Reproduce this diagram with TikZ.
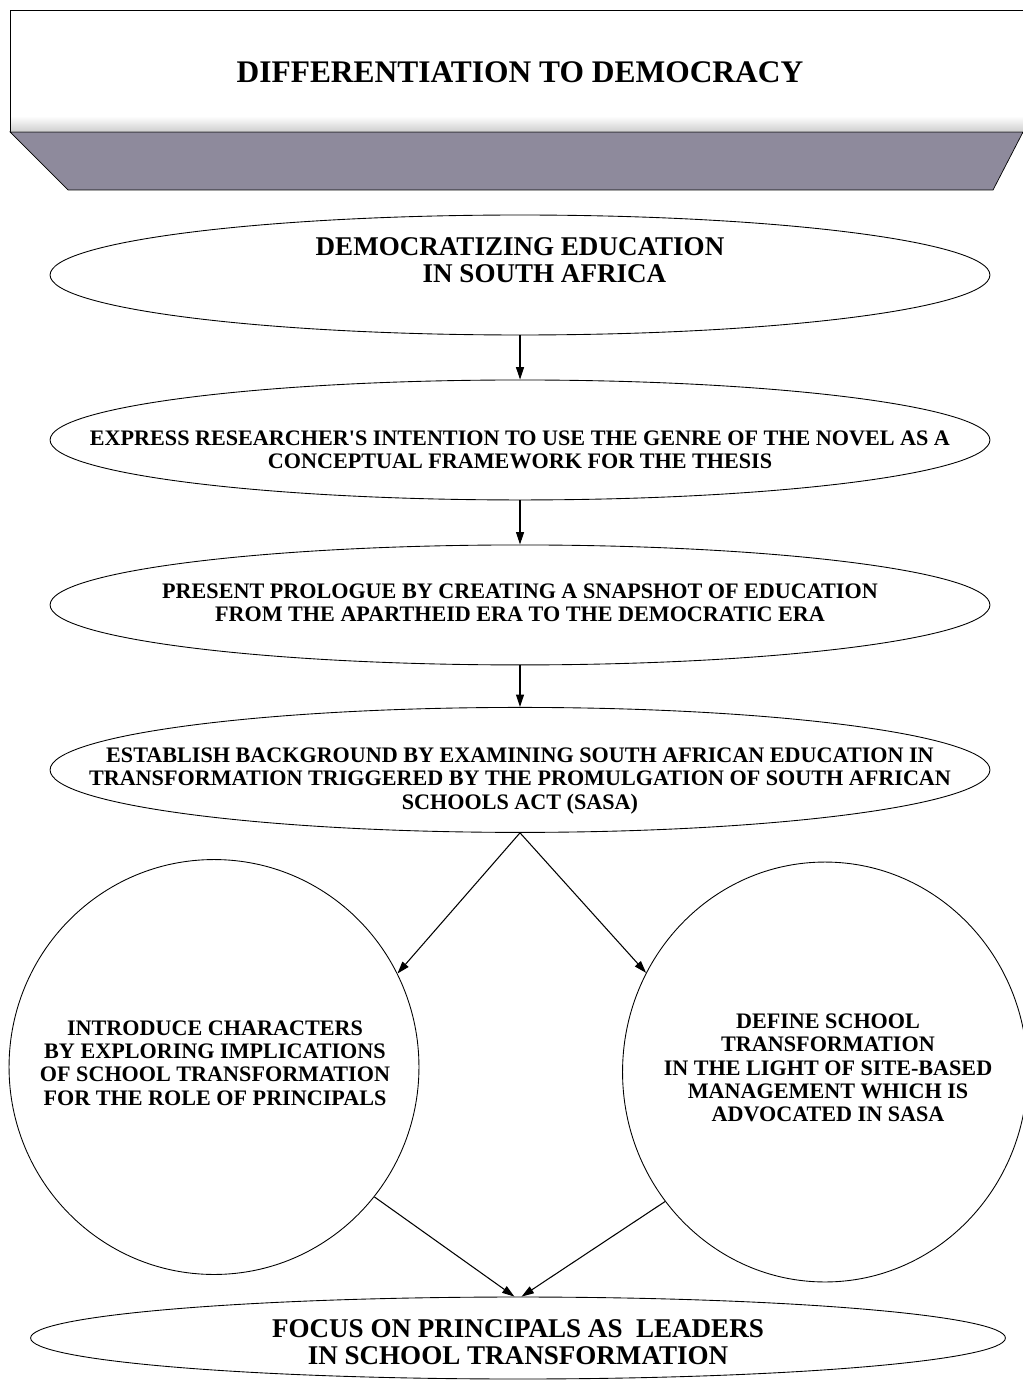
\documentclass[tikz,border=0pt]{standalone}
\usepackage{fontspec}
\setmainfont{Liberation Serif}
\usetikzlibrary{arrows.meta,shapes}

\definecolor{slab}{RGB}{142,138,156}
\newcommand{\straightquote}{{\XeTeXglyph\XeTeXglyphindex "quotesingle"\relax}}

\begin{document}
\begin{tikzpicture}[x=0.02cm,y=-0.02cm,node distance=3.3cm]
	  \tikzstyle{stage}=[ellipse,draw,line width=0.5pt,minimum width=18.8cm,minimum height=2.4cm,inner sep=0pt]
	  \tikzstyle{bubble}=[ellipse,draw,line width=0.5pt,minimum width=8.2cm,minimum height=8.3cm,inner sep=0pt]
	  \tikzstyle{words}=[align=center,inner sep=0pt,font=\bfseries\fontsize{12.6}{13.3}\selectfont]
	  \tikzstyle{bigwords}=[words,font=\bfseries\fontsize{15.4}{15.3}\selectfont]
	  \tikzstyle{flow}=[-{Triangle[length=7pt,width=4.5pt]},semithick]

		\useasboundingbox (0,0) rectangle (1023,1381);

		% banner
		\draw[thin,fill=white] (10,10) rectangle (1030,132);
		\shade[top color=white,bottom color=black!18] (11,116) rectangle (1030,131);
		\draw[thin,fill=slab] (10,132) -- (1023,132) -- (993,190) -- (68,190) -- cycle;
		\node[font=\bfseries\fontsize{17.9}{20}\selectfont] (title) at (520,72) {DIFFERENTIATION TO DEMOCRACY};

		\node[stage] (e1) at (520,275) {};
		\node[stage] (e2) [below of=e1] {};
		\node[stage] (e3) [below of=e2] {};
		\node[stage,minimum height=2.5cm] (e4) [below of=e3] {};

		\node[bubble] (c1) at (214,1067) {};
		\node[bubble,minimum width=8.1cm,minimum height=8.4cm] (c2) at (825,1072) {};

		\node[stage,minimum width=19.5cm,minimum height=1.64cm] (e6) at (518,1338) {};

		\node[bigwords,align=left] (t1) at (520,260) {DEMOCRATIZING EDUCATION\\\hspace*{2.14cm}IN SOUTH AFRICA};
		\node[words] (t2) at (520,450) {EXPRESS RESEARCHER\straightquote S INTENTION TO USE THE GENRE OF THE NOVEL AS A\\CONCEPTUAL FRAMEWORK FOR THE THESIS};
		\node[words] (t3) at (520,603) {PRESENT PROLOGUE BY CREATING A SNAPSHOT OF EDUCATION\\FROM THE APARTHEID ERA TO THE DEMOCRATIC ERA};
		\node[words] (t4) at (520,781) {ESTABLISH BACKGROUND BY EXAMINING SOUTH AFRICAN EDUCATION IN\\TRANSFORMATION TRIGGERED BY THE PROMULGATION OF SOUTH AFRICAN\\SCHOOLS ACT (SASA)};
		\node[words] (t5) at (215,1063) {INTRODUCE CHARACTERS\\BY EXPLORING IMPLICATIONS\\OF SCHOOL TRANSFORMATION\\FOR THE ROLE OF PRINCIPALS};
		\node[words] (t6) at (828,1068) {DEFINE SCHOOL\\TRANSFORMATION\\IN THE LIGHT OF SITE-BASED\\MANAGEMENT WHICH IS\\ADVOCATED IN SASA};
		\node[bigwords] (t7) at (518,1342) {FOCUS ON PRINCIPALS AS\ \ LEADERS\\IN SCHOOL TRANSFORMATION};

		\draw[flow] (e1) -- (e2);
		\draw[flow] (e2) -- (e3);
		\draw[flow] (e3) -- (e4);
		\draw[flow] (e4.south) -- (c1.27);
		\draw[flow] (e4.south) -- (c2.151);
		\draw[flow] (c1.-39) -- (e6.95);
		\draw[flow] (c2.219) -- (e6.85);
		%\draw (t1) -- (title);

	\end{tikzpicture}
\end{document}
